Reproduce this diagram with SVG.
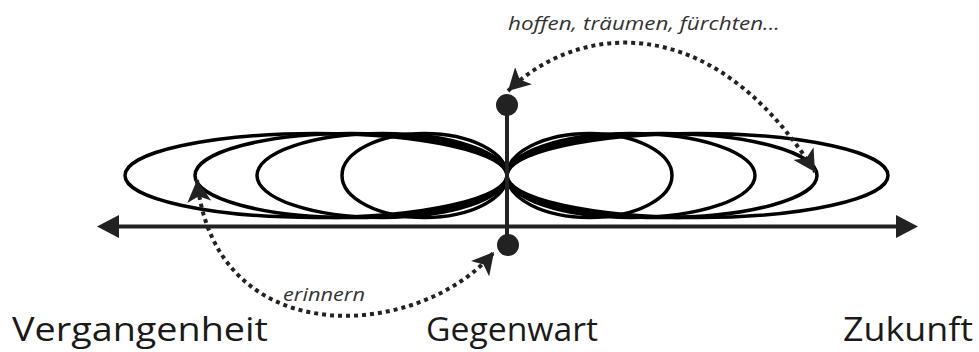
<svg xmlns="http://www.w3.org/2000/svg" width="979" height="352" viewBox="0 0 979 352">
<style>
.ell{fill:none;stroke:#000;stroke-width:3.5}
.axis{stroke:#222;stroke-width:4;fill:none}
.dot{fill:#222}
.dotted{fill:none;stroke:#222;stroke-width:4;stroke-dasharray:4 4}
.lbl{font-family:"Open Sans","DejaVu Sans",sans-serif;font-size:32px;fill:#1a1a1a}
.it{font-family:"Open Sans","DejaVu Sans",sans-serif;font-size:18px;font-style:italic;fill:#333}
</style>
<defs>
<marker id="ah" markerUnits="userSpaceOnUse" markerWidth="24" markerHeight="24" refX="20" refY="11" orient="auto-start-reverse" viewBox="0 0 22 22">
<path d="M0,0 L20,11 L0,22 L5,11 Z" fill="#222"/>
</marker>
</defs>
<rect width="979" height="352" fill="#fff"/>
<g id="loops-past">
<ellipse class="ell" cx="316" cy="175.5" rx="191" ry="42"/>
<ellipse class="ell" cx="351" cy="175.5" rx="156" ry="42"/>
<ellipse class="ell" cx="382" cy="175.5" rx="125" ry="42"/>
<ellipse class="ell" cx="424.5" cy="175.5" rx="82.5" ry="42"/>
</g>
<g id="loops-future">
<ellipse class="ell" cx="697.5" cy="175.5" rx="190.5" ry="42"/>
<ellipse class="ell" cx="662" cy="175.5" rx="155" ry="42"/>
<ellipse class="ell" cx="631" cy="175.5" rx="124" ry="42"/>
<ellipse class="ell" cx="589.5" cy="175.5" rx="82.5" ry="42"/>
</g>
<g id="timeline">
<line class="axis" x1="115" y1="226.5" x2="900" y2="226.5"/>
<polygon class="dot" points="97,226.5 119,215 119,238"/>
<polygon class="dot" points="918,226.5 896,215 896,238"/>
<line class="axis" x1="507" y1="105" x2="507" y2="245"/>
</g>
<g id="node-top"><circle class="dot" cx="507" cy="105" r="11"/></g>
<g id="node-bottom"><circle class="dot" cx="508" cy="245" r="11"/></g>
<g id="connectors">
<path class="dotted" d="M508,91 C575,25 710,5 815,172" marker-start="url(#ah)" marker-end="url(#ah)"/>
<path class="dotted" d="M197,180 C215,355 420,340 494,252" marker-start="url(#ah)" marker-end="url(#ah)"/>
</g>
<g id="labels">
<text class="it" x="508" y="30" textLength="272" lengthAdjust="spacingAndGlyphs">hoffen, träumen, fürchten...</text>
<text class="it" x="283" y="301" textLength="82" lengthAdjust="spacingAndGlyphs">erinnern</text>
<text class="lbl" x="12" y="341" textLength="256" lengthAdjust="spacingAndGlyphs">Vergangenheit</text>
<text class="lbl" x="426" y="341" textLength="172" lengthAdjust="spacingAndGlyphs">Gegenwart</text>
<text class="lbl" x="843" y="341" textLength="130" lengthAdjust="spacingAndGlyphs">Zukunft</text>
</g>
</svg>
